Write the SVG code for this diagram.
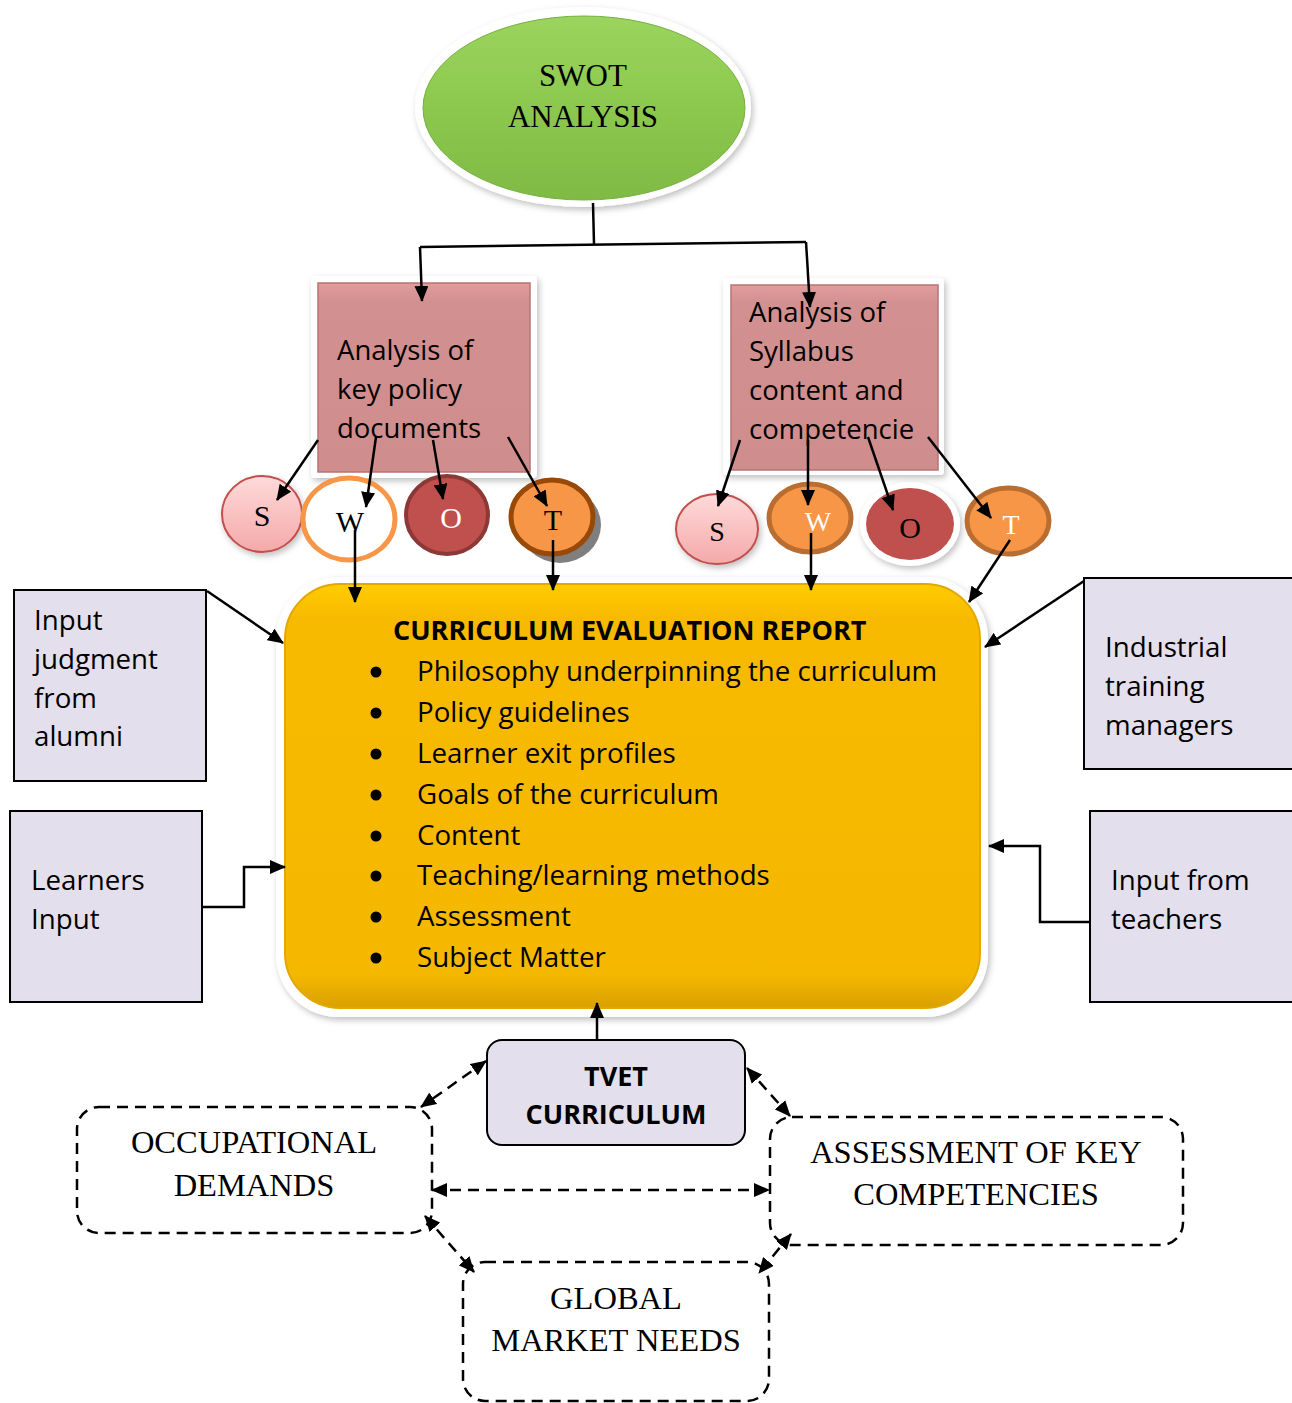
<svg xmlns="http://www.w3.org/2000/svg" width="1292" height="1403" viewBox="0 0 1292 1403">
<defs>
  <marker id="ah" viewBox="0 0 16 14" refX="15" refY="7" markerWidth="16" markerHeight="14" markerUnits="userSpaceOnUse" orient="auto-start-reverse">
    <path d="M0,0 L16,7 L0,14 Z" fill="#000"/>
  </marker>
  <linearGradient id="green" x1="0" y1="0" x2="0" y2="1">
    <stop offset="0" stop-color="#9BD45E"/>
    <stop offset="0.5" stop-color="#8CC84E"/>
    <stop offset="1" stop-color="#7FBA45"/>
  </linearGradient>
  <linearGradient id="gold" x1="0" y1="0" x2="0" y2="1">
    <stop offset="0" stop-color="#FFCC00"/>
    <stop offset="0.08" stop-color="#F7BA00"/>
    <stop offset="0.92" stop-color="#F5B800"/>
    <stop offset="1" stop-color="#D9A000"/>
  </linearGradient>
  <linearGradient id="pinkc" x1="0" y1="0" x2="0" y2="1">
    <stop offset="0" stop-color="#FFDADA"/>
    <stop offset="1" stop-color="#F4A9A9"/>
  </linearGradient>
  <linearGradient id="rose" x1="0" y1="0" x2="0" y2="1">
    <stop offset="0" stop-color="#E29C9C"/>
    <stop offset="0.1" stop-color="#D29090"/>
    <stop offset="1" stop-color="#CF8D8D"/>
  </linearGradient>
  <filter id="sh" x="-10%" y="-10%" width="130%" height="130%">
    <feDropShadow dx="2" dy="3" stdDeviation="3" flood-color="#000" flood-opacity="0.25"/>
  </filter>
</defs>
<style>
  .cal { font-family: "Open Sans", "Noto Sans", "Liberation Sans", sans-serif; fill: #000; }
  .tim { font-family: "Liberation Serif", "Times New Roman", serif; fill: #000; }
  .box { fill: #E4DFEC; stroke: #000; stroke-width: 2; }
  .ln { fill: none; stroke: #000; stroke-width: 2.5; }
  .dash { fill: none; stroke: #000; stroke-width: 2.5; stroke-dasharray: 11 7; }
  .halo { fill: #FFFFFF; filter: url(#sh); }
</style>
<rect width="1292" height="1403" fill="#FFFFFF"/>

<!-- SWOT ellipse -->
<g id="swot">
  <ellipse cx="583" cy="107" rx="168" ry="100" class="halo"/>
  <ellipse cx="584" cy="108" rx="161" ry="92" fill="url(#green)" stroke="#76B03E" stroke-width="1"/>
  <text x="583" y="86" text-anchor="middle" class="tim" font-size="31">SWOT</text>
  <text x="583" y="127" text-anchor="middle" class="tim" font-size="31">ANALYSIS</text>
</g>

<!-- Left analysis box -->
<g id="policy">
  <rect x="311" y="276" width="226" height="202" rx="4" class="halo"/>
  <rect x="318" y="283" width="212" height="189" fill="url(#rose)" stroke="#B87474" stroke-width="1.5"/>
  <text class="cal" font-size="27.5"><tspan x="337" y="360">Analysis of</tspan><tspan x="337" y="399">key policy</tspan><tspan x="337" y="438">documents</tspan></text>
</g>

<!-- Right analysis box -->
<g id="syllabus">
  <rect x="723" y="278" width="221" height="197" rx="4" class="halo"/>
  <rect x="731" y="285" width="207" height="185" fill="url(#rose)" stroke="#B87474" stroke-width="1.5"/>
  <text class="cal" font-size="27.5"><tspan x="749" y="322">Analysis of</tspan><tspan x="749" y="361">Syllabus</tspan><tspan x="749" y="400">content and</tspan><tspan x="749" y="439">competencie</tspan></text>
</g>

<!-- Left SWOT circles -->
<g id="ls">
  <ellipse cx="262" cy="514" rx="40" ry="38" fill="url(#pinkc)" stroke="#C0504D" stroke-width="2" filter="url(#sh)"/>
  <text x="262" y="526" text-anchor="middle" class="tim" font-size="30">S</text>
</g>
<g id="lw">
  <ellipse cx="349" cy="519" rx="46" ry="41" fill="#FFFFFF" stroke="#F79646" stroke-width="5"/>
  <text x="350" y="532" text-anchor="middle" class="tim" font-size="30">W</text>
</g>
<g id="lo">
  <ellipse cx="447" cy="515" rx="41" ry="39" fill="#C0504D" stroke="#8C3836" stroke-width="4"/>
  <text x="451" y="528" text-anchor="middle" class="tim" font-size="30" style="fill:#FFFFFF">O</text>
</g>
<g id="lt">
  <ellipse cx="560" cy="525" rx="41" ry="38" fill="#7F7F7F"/>
  <ellipse cx="552" cy="517" rx="41" ry="37" fill="#F79646" stroke="#984807" stroke-width="5"/>
  <text x="553" y="530" text-anchor="middle" class="tim" font-size="30">T</text>
</g>

<!-- Right SWOT circles -->
<g id="rs">
  <ellipse cx="717" cy="529" rx="41" ry="35" fill="url(#pinkc)" stroke="#C0504D" stroke-width="2" filter="url(#sh)"/>
  <text x="717" y="541" text-anchor="middle" class="tim" font-size="28">S</text>
</g>
<g id="rw">
  <ellipse cx="810" cy="518" rx="41" ry="34" fill="#F79646" stroke="#B96D30" stroke-width="5"/>
  <text x="818" y="531" text-anchor="middle" class="tim" font-size="28" style="fill:#FFFFFF">W</text>
</g>
<g id="ro">
  <ellipse cx="910" cy="524" rx="50" ry="42" fill="#FFFFFF" filter="url(#sh)"/>
  <ellipse cx="910" cy="524" rx="44" ry="36" fill="#C0504D"/>
  <text x="910" y="538" text-anchor="middle" class="tim" font-size="30">O</text>
</g>
<g id="rt">
  <ellipse cx="1008" cy="521" rx="41" ry="33" fill="#F79646" stroke="#B96D30" stroke-width="5"/>
  <text x="1011" y="534" text-anchor="middle" class="tim" font-size="28" style="fill:#FFFFFF">T</text>
</g>

<!-- Main report box -->
<g id="report">
  <rect x="276" y="577" width="712" height="440" rx="62" class="halo"/>
  <rect x="285" y="584" width="695" height="424" rx="55" fill="url(#gold)" stroke="#E2A800" stroke-width="2"/>
  <text x="393" y="640" class="cal" font-size="27" font-weight="bold">CURRICULUM EVALUATION REPORT</text>
  <g class="cal" font-size="27.7">
    <circle cx="376" cy="672" r="5.5"/><text x="417" y="681">Philosophy underpinning the curriculum</text>
    <circle cx="376" cy="713" r="5.5"/><text x="417" y="722">Policy guidelines</text>
    <circle cx="376" cy="754" r="5.5"/><text x="417" y="763">Learner exit profiles</text>
    <circle cx="376" cy="795" r="5.5"/><text x="417" y="804">Goals of the curriculum</text>
    <circle cx="376" cy="836" r="5.5"/><text x="417" y="845">Content</text>
    <circle cx="376" cy="876" r="5.5"/><text x="417" y="885">Teaching/learning methods</text>
    <circle cx="376" cy="917" r="5.5"/><text x="417" y="926">Assessment</text>
    <circle cx="376" cy="958" r="5.5"/><text x="417" y="967">Subject Matter</text>
  </g>
</g>

<!-- Side input boxes -->
<g id="alumni">
  <rect x="14" y="590" width="192" height="191" class="box"/>
  <text class="cal" font-size="27.7"><tspan x="34" y="630">Input</tspan><tspan x="34" y="669">judgment</tspan><tspan x="34" y="708">from</tspan><tspan x="34" y="746">alumni</tspan></text>
</g>
<g id="learners">
  <rect x="10" y="811" width="192" height="191" class="box"/>
  <text class="cal" font-size="27.7"><tspan x="31" y="890">Learners</tspan><tspan x="31" y="929">Input</tspan></text>
</g>
<g id="industrial">
  <rect x="1084" y="578" width="212" height="191" class="box"/>
  <text class="cal" font-size="27.7"><tspan x="1105" y="657">Industrial</tspan><tspan x="1105" y="696">training</tspan><tspan x="1105" y="735">managers</tspan></text>
</g>
<g id="teachers">
  <rect x="1090" y="811" width="206" height="191" class="box"/>
  <text class="cal" font-size="27.7"><tspan x="1111" y="890">Input from</tspan><tspan x="1111" y="929">teachers</tspan></text>
</g>

<!-- TVET -->
<g id="tvet">
  <rect x="487" y="1040" width="258" height="105" rx="15" class="box"/>
  <text x="616" y="1086" text-anchor="middle" class="cal" font-size="27" font-weight="bold">TVET</text>
  <text x="616" y="1124" text-anchor="middle" class="cal" font-size="27" font-weight="bold">CURRICULUM</text>
</g>

<!-- Dashed outcome boxes -->
<g id="occupational">
  <rect x="77" y="1107" width="355" height="126" rx="22" class="dash"/>
  <text x="254" y="1153" text-anchor="middle" class="tim" font-size="32.5">OCCUPATIONAL</text>
  <text x="254" y="1196" text-anchor="middle" class="tim" font-size="32.5">DEMANDS</text>
</g>
<g id="assessment">
  <rect x="770" y="1117" width="413" height="128" rx="22" class="dash"/>
  <text x="976" y="1163" text-anchor="middle" class="tim" font-size="32.5">ASSESSMENT OF KEY</text>
  <text x="976" y="1205" text-anchor="middle" class="tim" font-size="32.5">COMPETENCIES</text>
</g>
<g id="global">
  <rect x="463" y="1262" width="306" height="139" rx="22" class="dash"/>
  <text x="616" y="1309" text-anchor="middle" class="tim" font-size="32.5">GLOBAL</text>
  <text x="616" y="1351" text-anchor="middle" class="tim" font-size="32.5">MARKET NEEDS</text>
</g>

<!-- Connectors -->
<g id="connectors">
  <path class="ln" d="M593,203 L594,244"/>
  <path class="ln" d="M420,247 L806,242"/>
  <path class="ln" d="M420,247 L422,301" marker-end="url(#ah)"/>
  <path class="ln" d="M806,242 L810,307" marker-end="url(#ah)"/>

  <path class="ln" d="M318,440 L277,500" marker-end="url(#ah)"/>
  <path class="ln" d="M376,437 L366,507" marker-end="url(#ah)"/>
  <path class="ln" d="M433,440 L443,499" marker-end="url(#ah)"/>
  <path class="ln" d="M508,437 L547,506" marker-end="url(#ah)"/>
  <path class="ln" d="M355,530 L355,602" marker-end="url(#ah)"/>
  <path class="ln" d="M553,540 L553,590" marker-end="url(#ah)"/>

  <path class="ln" d="M740,440 L718,506" marker-end="url(#ah)"/>
  <path class="ln" d="M808,440 L808,505" marker-end="url(#ah)"/>
  <path class="ln" d="M868,437 L893,510" marker-end="url(#ah)"/>
  <path class="ln" d="M928,437 L991,518" marker-end="url(#ah)"/>
  <path class="ln" d="M811,533 L811,590" marker-end="url(#ah)"/>
  <path class="ln" d="M1010,540 L969,602" marker-end="url(#ah)"/>

  <path class="ln" d="M207,591 L283,643" marker-end="url(#ah)"/>
  <path class="ln" d="M202,907 L244,907 L244,867 L285,867" marker-end="url(#ah)"/>
  <path class="ln" d="M1084,581 L985,647" marker-end="url(#ah)"/>
  <path class="ln" d="M1090,922 L1040,922 L1040,846 L989,846" marker-end="url(#ah)"/>
  <path class="ln" d="M597,1040 L597,1003" marker-end="url(#ah)"/>

  <path class="dash" d="M486,1061 L421,1107" marker-start="url(#ah)" marker-end="url(#ah)"/>
  <path class="dash" d="M747,1068 L790,1116" marker-start="url(#ah)" marker-end="url(#ah)"/>
  <path class="dash" d="M432,1190 L769,1190" marker-start="url(#ah)" marker-end="url(#ah)"/>
  <path class="dash" d="M425,1216 L474,1272" marker-start="url(#ah)" marker-end="url(#ah)"/>
  <path class="dash" d="M791,1234 L759,1273" marker-start="url(#ah)" marker-end="url(#ah)"/>
</g>
</svg>
